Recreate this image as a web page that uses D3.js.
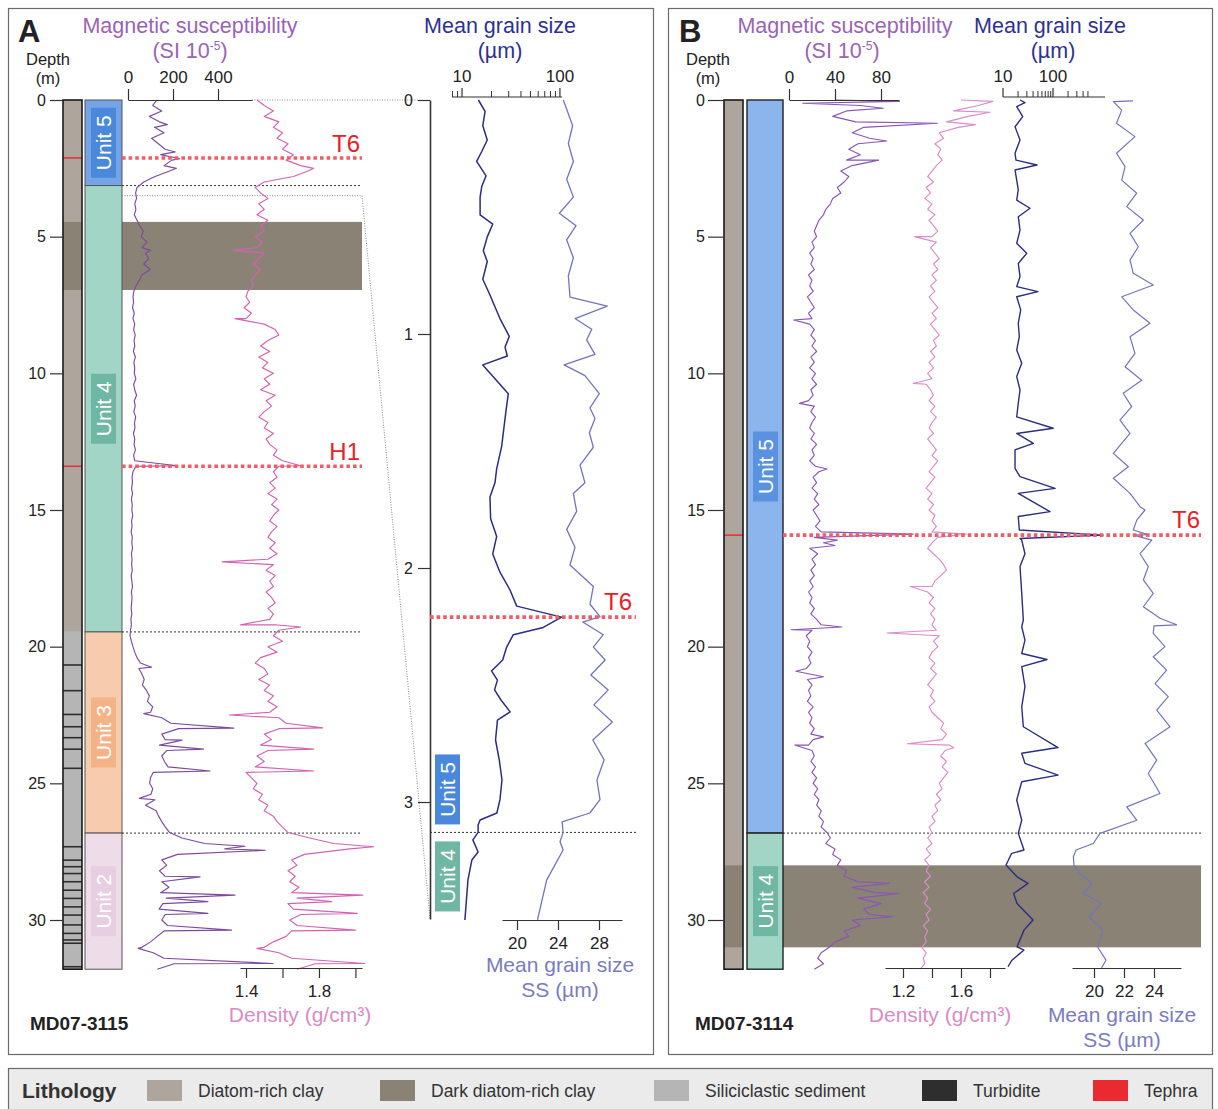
<!DOCTYPE html>
<html>
<head>
<meta charset="utf-8">
<script src="https://cdn.jsdelivr.net/npm/d3@7/dist/d3.min.js"></script>
<style>
html,body{margin:0;padding:0;background:#fff;}
svg{display:block;}
</style>
</head>
<body>
<svg id="chart" width="1218" height="1109"></svg>
<script>
// ---------------- DATA ----------------
const depthTicks = [0, 5, 10, 15, 20, 25, 30];
const zoomDepthTicks = [0, 1, 2, 3];
const sampleStep = 0.2; // m, regular sampling of the MSCL logs

// Core MD07-3115 magnetic susceptibility (SI 10^-5), every 0.2 m from 0 m
const magA = [128,110,150,95,140,118,160,105,135,165,
145,195,160,185,120,70,40,34,38,30,
35,28,40,52,68,58,85,62,78,92,
70,98,62,50,36,26,22,25,20,28,
22,30,25,32,27,30,24,33,26,30,
28,35,25,30,38,28,32,26,34,29,
31,24,30,27,33,25,30,35,22,18,
20,16,20,15,19,17,21,16,18,14,
19,17,20,15,18,16,19,14,17,20,
15,18,16,14,17,13,15,11,9,15,
22,30,40,55,48,62,72,64,82,95,
86,110,100,150,190,225,150,165,140,172,
150,162,178,112,100,96,110,102,120,78,
125,136,150,166,185,240,340,430,220,150,
172,140,165,150,182,145,170,155,138,165,
150,176,160,130,100,62,112,160,205,130];
const magASpikes = [[0.9,175],[1.9,210],[2.15,230],[2.5,215],[5.5,100],[13.38,220],[20.75,105],[22.45,70],[22.98,470],[23.42,240],[23.75,335],[24.55,365],[25.55,50],[27.3,520],[27.45,610],[28.42,320],[29.09,475],[29.33,355],[29.76,355],[30.37,460],[31.04,45],[31.59,645]];

// Core MD07-3115 density (g/cm3), every 0.2 m from 0 m
const densA = [1.46,1.50,1.55,1.50,1.58,1.55,1.60,1.57,1.63,1.60,
1.66,1.62,1.70,1.74,1.66,1.50,1.45,1.48,1.52,1.47,
1.50,1.46,1.52,1.48,1.50,1.45,1.49,1.46,1.50,1.47,
1.44,1.48,1.45,1.43,1.44,1.41,1.40,1.42,1.39,1.43,
1.40,1.50,1.56,1.58,1.52,1.48,1.53,1.47,1.52,1.49,
1.55,1.50,1.53,1.48,1.56,1.51,1.54,1.50,1.47,1.52,
1.50,1.55,1.51,1.53,1.57,1.55,1.60,1.58,1.55,1.57,
1.53,1.56,1.52,1.57,1.54,1.58,1.55,1.53,1.57,1.54,
1.52,1.56,1.53,1.57,1.52,1.55,1.51,1.56,1.53,1.55,
1.51,1.54,1.56,1.52,1.55,1.53,1.56,1.58,1.55,1.60,
1.52,1.57,1.48,1.45,1.50,1.52,1.47,1.53,1.50,1.55,
1.52,1.57,1.53,1.58,1.62,1.58,1.50,1.54,1.48,1.52,
1.46,1.50,1.45,1.40,1.43,1.46,1.44,1.49,1.47,1.52,
1.50,1.55,1.57,1.60,1.63,1.75,1.88,1.97,1.72,1.65,
1.68,1.63,1.67,1.64,1.69,1.65,1.68,1.63,1.66,1.70,
1.64,1.68,1.65,1.62,1.55,1.50,1.58,1.65,1.78,1.68];
const densASpikes = [[2.5,1.77],[5.5,1.33],[8.0,1.34],[13.38,1.70],[16.9,1.27],[19.2,1.37],[19.28,1.70],[22.5,1.31],[22.97,1.82],[23.75,1.77],[24.55,1.77],[27.32,2.1],[29.09,2.04],[29.33,1.87],[29.76,2.01],[30.37,2.0],[31.04,1.46],[31.59,2.05]];

// Core MD07-3115 top 3.5 m: mean grain size (um) and sortable silt mean (um)
const mgsA = [[0,14.7],[0.049,17.2],[0.11,16.3],[0.171,18.1],[0.22,15.9],[0.262,14.1],[0.324,17.6],[0.37,15.9],[0.415,15.3],[0.491,15.3],[0.53,20.6],[0.585,18.1],[0.644,16.5],[0.69,18.1],[0.766,16.3],[0.827,19.0],[0.934,24.4],[1.01,30.4],[1.056,27.5],[1.094,29.0],[1.132,16.3],[1.255,29.7],[1.33,28.1],[1.48,25.4],[1.575,22.6],[1.636,21.7],[1.697,19.3],[1.79,19.6],[1.865,22.6],[1.94,20.6],[2.018,24.4],[2.094,30.9],[2.163,36.2],[2.21,104],[2.254,67.6],[2.285,33.4],[2.338,28.6],[2.393,26],[2.44,20],[2.479,23],[2.521,21.5],[2.564,25],[2.615,31],[2.65,23],[2.735,22],[2.82,24],[2.906,25.6],[2.99,24.4],[3.047,22.7],[3.077,15.3],[3.098,14.6],[3.13,14.6],[3.162,12.9],[3.214,14.6],[3.248,12.6],[3.333,11.5],[3.504,10.7]];
const ssA = [[0,24.52],[0.11,25.43],[0.186,25.01],[0.263,25.5],[0.339,24.85],[0.415,25.5],[0.484,24.13],[0.537,25.76],[0.598,24.85],[0.674,25.5],[0.751,25.01],[0.842,25.17],[0.881,28.81],[0.934,25.66],[0.98,27.29],[1.026,26.8],[1.087,27.61],[1.132,24.59],[1.178,26.63],[1.255,28.03],[1.316,27.12],[1.361,27.61],[1.422,27.06],[1.484,27.45],[1.56,26.15],[1.636,26.63],[1.682,25.5],[1.758,25.82],[1.835,24.85],[1.911,25.66],[1.987,25.17],[2.079,27.45],[2.155,27.12],[2.208,28.1],[2.231,26.41],[2.285,28.42],[2.338,27.45],[2.393,28.6],[2.457,27.2],[2.521,28.9],[2.585,27.5],[2.658,29.3],[2.735,27.4],[2.82,28.5],[2.906,27.8],[2.99,28.1],[3.047,27.1],[3.085,24.4],[3.13,24.5],[3.17,24.2],[3.205,24.5],[3.333,22.9],[3.504,22.0]];

// Core MD07-3114 magnetic susceptibility (SI 10^-5), every 0.2 m from 0 m
const magB = [40,62,50,38,58,65,55,70,60,52,
62,50,55,45,52,48,42,45,38,36,
32,30,26,24,22,24,20,22,18,21,
19,22,17,20,18,21,16,19,22,17,
20,18,22,19,23,20,24,19,22,18,
23,20,24,19,21,17,22,19,23,20,
18,22,19,24,20,22,18,23,26,21,
24,20,25,22,26,21,24,27,23,28,
22,30,18,25,20,23,19,22,18,21,
17,20,18,22,19,24,28,20,15,18,
16,20,17,19,15,18,16,20,17,19,
16,21,17,20,18,22,19,21,17,20,
22,19,23,20,24,21,25,22,26,24,
28,26,30,28,33,36,32,40,38,45,
42,50,48,60,55,75,60,80,65,70,
55,62,48,52,40,35,28,25,30,22];
const magBSpikes = [[0.05,96],[0.12,12],[0.3,82],[0.85,129],[1.5,85],[2.2,78],[8.05,4],[11.1,9],[13.5,33],[15.88,108],[16.1,42],[16.3,40],[19.28,46],[19.38,2],[20.9,6],[21.1,30],[23.3,30],[23.6,5],[28.66,87],[29.03,96],[29.88,90]];

// Core MD07-3114 density (g/cm3), every 0.2 m from 0 m
const densB = [1.60,1.72,1.55,1.65,1.50,1.58,1.45,1.48,1.42,1.46,
1.44,1.47,1.43,1.40,1.37,1.41,1.36,1.39,1.35,1.40,
1.37,1.42,1.38,1.41,1.44,1.40,1.43,1.39,1.42,1.45,
1.41,1.44,1.40,1.43,1.39,1.42,1.38,1.41,1.44,1.40,
1.43,1.39,1.42,1.45,1.41,1.43,1.39,1.42,1.38,1.41,
1.37,1.40,1.36,1.39,1.41,1.38,1.42,1.39,1.43,1.40,
1.38,1.41,1.37,1.40,1.43,1.40,1.44,1.41,1.38,1.42,
1.39,1.36,1.40,1.37,1.41,1.38,1.42,1.40,1.43,1.40,
1.44,1.40,1.37,1.41,1.45,1.48,1.50,1.46,1.42,1.40,
1.37,1.41,1.38,1.42,1.39,1.42,1.40,1.43,1.45,1.41,
1.44,1.40,1.38,1.42,1.39,1.43,1.40,1.37,1.41,1.39,
1.42,1.38,1.40,1.44,1.48,1.46,1.50,1.47,1.52,1.49,
1.46,1.50,1.47,1.51,1.48,1.45,1.47,1.43,1.46,1.42,
1.44,1.40,1.42,1.38,1.40,1.37,1.40,1.36,1.39,1.35,
1.38,1.36,1.39,1.35,1.38,1.34,1.37,1.35,1.39,1.36,
1.38,1.34,1.37,1.35,1.36,1.33,1.36,1.34,1.35,1.32];
const densBSpikes = [[0.05,1.82],[0.45,1.80],[0.9,1.70],[5.0,1.28],[10.37,1.27],[15.88,1.64],[17.8,1.25],[19.5,1.09],[23.55,1.23],[23.7,1.55]];

// Core MD07-3114 mean grain size (um) and sortable silt (um)
const mgsB = [[0,21.9],[0.1,27.5],[0.24,18.8],[0.61,24.8],[0.98,17.4],[1.46,21.9],[1.95,17.4],[2.2,18.2],[2.38,47.9],[2.56,17.4],[2.93,18.8],[3.29,20.2],[3.66,18.8],[3.96,34.7],[4.27,20.2],[4.76,21.9],[5.24,18.8],[5.61,29.8],[5.98,20.2],[6.46,21.9],[6.83,18.8],[7.01,50.1],[7.2,18.8],[7.68,22.6],[8.17,20.2],[8.66,21.2],[9.15,18.8],[9.63,23.7],[10.12,18.8],[10.61,21.9],[11.1,20.2],[11.59,18.8],[12.01,101],[12.2,18.8],[12.56,40.4],[12.8,17.4],[13.48,17.4],[13.78,21.9],[14.21,110],[14.39,20.2],[15.06,87],[15.24,20.2],[15.73,21.2],[15.92,1000],[16.04,21.9],[16.1,23.7],[16.6,27.5],[17.07,21.9],[18.05,23.7],[19.03,25.5],[19.27,23.7],[19.76,27.5],[20.25,23.7],[20.47,75.9],[20.73,23.7],[21.46,27.5],[22.2,23.7],[22.93,25.5],[23.69,126],[23.9,23.7],[24.27,27.5],[24.7,126],[24.94,23.7],[25.61,18.8],[26.35,23.7],[26.83,20.2],[27.44,26.3],[27.56,14.9],[27.99,11.5],[28.42,19.1],[28.66,31.6],[29.03,16.3],[29.4,19.1],[30.0,39.8],[30.37,26.3],[30.98,19.1],[31.1,26.3],[31.47,15.1],[31.71,12.6]];
const ssB = [[0.06,21.29],[0.37,21.85],[0.85,21.5],[1.34,22.73],[1.95,21.5],[2.44,22.07],[2.93,21.85],[3.41,22.85],[3.9,22.18],[4.39,23.29],[4.88,22.4],[5.37,22.95],[5.86,22.4],[6.34,22.62],[6.77,23.95],[7.2,21.85],[7.68,22.62],[8.17,23.73],[8.66,22.4],[9.27,22.73],[9.76,22.07],[10.25,23.18],[10.73,21.95],[11.22,22.51],[11.71,21.73],[12.2,22.4],[12.93,21.29],[13.42,22.29],[13.84,21.29],[14.39,22.4],[14.88,23.07],[15.0,23.4],[15.37,22.85],[15.73,22.62],[15.92,22.62],[16.1,23.85],[16.6,23.07],[17.07,23.62],[17.56,23.29],[18.05,23.95],[18.54,23.29],[18.96,24.4],[19.24,24.0],[19.51,23.95],[20.0,24.73],[20.37,23.95],[20.86,24.84],[21.35,24.07],[21.83,24.95],[22.32,24.18],[22.93,25.07],[23.54,23.4],[24.15,24.18],[24.64,23.62],[25.37,24.4],[25.86,22.18],[26.35,22.85],[26.83,20.4],[27.2,19.95],[27.44,18.8],[27.69,18.62],[27.99,18.67],[28.3,19.07],[28.66,19.87],[29.03,19.3],[29.4,20.5],[29.88,19.67],[30.37,20.6],[30.98,20.23],[31.47,20.8],[31.75,20.5]];
const ssBSpikes = [[0.03,22.6],[15.9,23.6],[19.2,25.51]];

// Stratigraphy
const unitsA = [["Unit 5",0,3.13],["Unit 4",3.13,19.46],["Unit 3",19.46,26.82],["Unit 2",26.82,31.8]];
const unitsB = [["Unit 5",0,26.82],["Unit 4",26.82,31.8]];
const unitsZoomA = [["Unit 5",3.13],["Unit 4",3.13]];
const lithA = [["diatom",0,19.46],["silic",19.46,31.8],["dark",4.46,6.95]];
const lithB = [["diatom",0,31.8],["dark",28.0,31.0]];
const turbiditesA = [20.67,21.61,22.48,22.93,23.33,23.75,24.45,27.32,27.81,28.05,28.3,28.6,28.91,29.21,29.52,29.82,30.18,30.49,30.73,30.85,31.71];
const tephraA = [["T6",2.12],["H1",13.4]];
const tephraZoomA = [["T6",2.21]];
const tephraB = [["T6",15.92]];
const darkBandA = [4.46,6.95];
const darkBandB = [28.0,31.0];
const zoomInterval = [0,3.5];

// Axis ticks
const magATicks = [0,200,400];
const densATicks = [1.4,1.6,1.8,2.0];
const densALabels = [1.4,1.8];
const mgsAMinor = [8,9,20,30,40,50,60,70,80,90];
const mgsAMajor = [10,100];
const ssATicks = [20,24,28];
const magBTicks = [0,40,80];
const densBTicks = [1.2,1.4,1.6,1.8];
const densBLabels = [1.2,1.6];
const mgsBMinor = [20,30,40,50,60,70,80,90,200,300,400,500];
const mgsBMajor = [10,100];
const ssBTicks = [20,22,24];

const legendItems = [["Diatom-rich clay","diatom"],["Dark diatom-rich clay","dark"],["Siliciclastic sediment","silic"],["Turbidite","turb"],["Tephra","tephra"]];

// ---------------- STYLE ----------------
const FONT = "'Liberation Sans', Arial, Helvetica, sans-serif";
const NARROW = "'Liberation Sans Narrow', 'Arial Narrow', 'Liberation Sans', Arial, sans-serif";
const lithColor = {diatom:"#aea69d", dark:"#8b8276", silic:"#b5b5b5", turb:"#2e2e2e", tephra:"#ea2a31"};
const unitCol = {"Unit 5":"#74a4e6","Unit 4":"#a3d5c7","Unit 3":"#f7cbad","Unit 2":"#eedde9"};
const unitBox = {"Unit 5":"#4a88dc","Unit 4":"#6fb7a3","Unit 3":"#f4b387","Unit 2":"#e7cfe1"};
const unitColB = {"Unit 5":"#8cb4ed","Unit 4":"#a3d5c7"};
const unitBoxB = {"Unit 5":"#5a92e0","Unit 4":"#6fb7a3"};
const C = {mag:"#7c4a9e", magB:"#8a55b5", dens:"#d263b3", densB:"#da8ccb", mgs:"#2b2d80", ss:"#7474bb",
  magT:"#9b63b5", densT:"#d88cc6", mgsT:"#2e3191", ssT:"#7b7bc0", red:"#e8202a", redDot:"#f05d66", axis:"#333"};

const svg = d3.select("#chart");
svg.append("rect").attr("width",1218).attr("height",1109).attr("fill","#fff");

// ---------------- SCALES ----------------
const yMain = d3.scaleLinear().domain([0,30]).range([100,920]);
const yZoom = d3.scaleLinear().domain([0,3.5]).range([100,919]);
const xMagA = d3.scaleLinear().domain([0,551]).range([128,252]);
const xDensA = d3.scaleLinear().domain([1.367,2.036]).range([240,362]);
const xMgsA = d3.scaleLog().domain([7.9,105]).range([452,562]);
const xSsA = d3.scaleLinear().domain([18.537,30.244]).range([502,622]);
const xMagB = d3.scaleLinear().domain([0,95.65]).range([789,899]);
const xDensB = d3.scaleLinear().domain([1.0759,1.9035]).range([885,1005]);
const xMgsB = d3.scaleLog().domain([10,1096.5]).range([1003,1105]);
const xSsB = d3.scaleLinear().domain([18.533,25.8]).range([1072,1181]);

// ---------------- FRAMES ----------------
svg.append("rect").attr("x",8.5).attr("y",8.5).attr("width",645).attr("height",1046).attr("fill","none").attr("stroke","#6b6b6b").attr("stroke-width",1.2);
svg.append("rect").attr("x",668.5).attr("y",8.5).attr("width",544).attr("height",1046).attr("fill","none").attr("stroke","#6b6b6b").attr("stroke-width",1.2);

// ---------------- helpers ----------------
function regular(vals){ return vals.map((v,i)=>[i*sampleStep, v]); }
function merged(vals, spikes){ return regular(vals).concat(spikes).sort((a,b)=>a[0]-b[0]); }
function curve(data, xs, ys, color, w){
  svg.append("path").datum(data)
    .attr("d", d3.line().x(d=>xs(d[1])).y(d=>ys(d[0])))
    .attr("fill","none").attr("stroke",color).attr("stroke-width",w).attr("stroke-linejoin","round");
}
function hline(x1,x2,y,color,w,dash){
  svg.append("line").attr("x1",x1).attr("x2",x2).attr("y1",y).attr("y2",y)
    .attr("stroke",color).attr("stroke-width",w).attr("stroke-dasharray",dash||null);
}
function text(x,y,s,opt){
  const t = svg.append("text").attr("x",x).attr("y",y).text(s)
    .attr("font-family",opt.family||FONT).attr("font-size",opt.size||16)
    .attr("fill",opt.color||"#222").attr("text-anchor",opt.anchor||"start");
  if(opt.bold) t.attr("font-weight","bold");
  return t;
}
function styleAxis(g){
  g.attr("font-family",FONT).attr("font-size",17);
  g.select(".domain").attr("stroke",C.axis).attr("stroke-width",1.2);
  g.selectAll(".tick line").attr("stroke",C.axis).attr("stroke-width",1.2);
  g.selectAll(".tick text").attr("fill","#222");
}
function logAxisTop(scale, y, minor, major){
  const [r0,r1] = scale.range();
  hline(r0,r1,y,C.axis,1.2);
  const g = svg.append("g");
  g.selectAll("line.mi").data(minor).join("line").attr("class","mi")
    .attr("x1",d=>scale(d)).attr("x2",d=>scale(d)).attr("y1",y).attr("y2",y-6)
    .attr("stroke",C.axis).attr("stroke-width",1);
  g.selectAll("line.ma").data(major).join("line").attr("class","ma")
    .attr("x1",d=>scale(d)).attr("x2",d=>scale(d)).attr("y1",y).attr("y2",y-9)
    .attr("stroke",C.axis).attr("stroke-width",1.2);
  g.selectAll("text").data(major).join("text")
    .attr("x",d=>scale(d)).attr("y",y-15).attr("text-anchor","middle")
    .attr("font-family",FONT).attr("font-size",17).attr("fill","#222").text(d=>d);
}
function unitLabel(cx, cy, name, fill){
  svg.append("rect").attr("x",cx-12.5).attr("y",cy-35).attr("width",25).attr("height",70).attr("fill",fill);
  svg.append("text").attr("transform",`translate(${cx+7},${cy}) rotate(-90)`)
    .attr("text-anchor","middle").attr("font-family",FONT).attr("font-size",21).attr("fill","#fff").text(name);
}

// ================= PANEL A =================
svg.append("rect").attr("x",122).attr("y",yMain(darkBandA[0])).attr("width",240)
  .attr("height",yMain(darkBandA[1])-yMain(darkBandA[0])).attr("fill",lithColor.dark);

lithA.forEach(([k,a,b])=>{
  svg.append("rect").attr("x",63).attr("y",yMain(a)).attr("width",19).attr("height",yMain(b)-yMain(a)).attr("fill",lithColor[k]);
});
turbiditesA.forEach(d=>hline(63,82,yMain(d),lithColor.turb,1.6));
tephraA.forEach(([n,d])=>hline(63,82,yMain(d),lithColor.tephra,1.5));
svg.append("rect").attr("x",63).attr("y",100).attr("width",19).attr("height",yMain(31.8)-100)
  .attr("fill","none").attr("stroke","#1a1a1a").attr("stroke-width",1.6);

unitsA.forEach(([n,a,b])=>{
  svg.append("rect").attr("x",85).attr("y",yMain(a)).attr("width",37).attr("height",yMain(b)-yMain(a))
    .attr("fill",unitCol[n]).attr("stroke","#555").attr("stroke-width",1);
});
unitsA.forEach(([n,a,b])=>unitLabel(103.5, yMain((a+b)/2), n, unitBox[n]));

const gDA = svg.append("g").attr("transform","translate(63,0)")
  .call(d3.axisLeft(yMain).tickValues(depthTicks).tickSize(13).tickPadding(4).tickSizeOuter(0));
styleAxis(gDA); gDA.attr("font-size",16); gDA.select(".domain").remove();

[3.13,19.46,26.82].forEach(d=>hline(122,362,yMain(d),"#333",1,"2,2"));
hline(252,418,100,"#8a8a8a",1,"1,1.5");
svg.append("path").attr("d",`M122,${yMain(zoomInterval[1])} L362,${yMain(zoomInterval[1])} L430,${yZoom(zoomInterval[1])}`)
  .attr("fill","none").attr("stroke","#8a8a8a").attr("stroke-width",1).attr("stroke-dasharray","1,1.5");

curve(merged(magA, magASpikes), xMagA, yMain, C.mag, 1.15);
curve(merged(densA, densASpikes), xDensA, yMain, C.dens, 1.15);

tephraA.forEach(([n,d])=>{
  hline(122,362,yMain(d),C.redDot,3.6,"3.6,3");
  text(360,yMain(d)-6,n,{size:24,color:C.red,anchor:"end"});
});

const gMagA = svg.append("g").attr("transform","translate(0,100)")
  .call(d3.axisTop(xMagA).tickValues(magATicks).tickSize(11).tickPadding(6).tickSizeOuter(0));
styleAxis(gMagA);
const gDensA = svg.append("g").attr("transform","translate(0,968)")
  .call(d3.axisBottom(xDensA).tickValues(densATicks).tickSize(10).tickPadding(7).tickSizeOuter(0)
  .tickFormat(d=>densALabels.includes(d)?d3.format(".1f")(d):""));
styleAxis(gDensA);

// zoom sub-plot A
const gDZ = svg.append("g").attr("transform","translate(430,0)")
  .call(d3.axisLeft(yZoom).tickValues(zoomDepthTicks).tickSize(12).tickPadding(5).tickSizeOuter(0).tickFormat(d3.format("d")));
styleAxis(gDZ); gDZ.attr("font-size",16); gDZ.select(".domain").attr("stroke-width",1.6);
hline(430,636,yZoom(unitsZoomA[0][1]),"#333",1,"2,2");
unitLabel(447.5, yZoom(unitsZoomA[0][1])-43, "Unit 5", unitBox["Unit 5"]);
unitLabel(447.5, yZoom(unitsZoomA[1][1])+44, "Unit 4", unitBox["Unit 4"]);
curve(mgsA, xMgsA, yZoom, C.mgs, 1.5);
curve(ssA, xSsA, yZoom, C.ss, 1.3);
tephraZoomA.forEach(([n,d])=>{
  hline(430,636,yZoom(d),C.redDot,3.6,"3.6,3");
  text(632,yZoom(d)-7,n,{size:24,color:C.red,anchor:"end"});
});
logAxisTop(xMgsA, 97, mgsAMinor, mgsAMajor);
const gSsA = svg.append("g").attr("transform","translate(0,920)")
  .call(d3.axisBottom(xSsA).tickValues(ssATicks).tickSize(10).tickPadding(7).tickSizeOuter(0));
styleAxis(gSsA);

text(18,42,"A",{size:31,bold:true,color:"#222"});
text(48,65,"Depth",{size:16.5,anchor:"middle"});
text(48,84,"(m)",{size:16.5,anchor:"middle"});
text(190,33,"Magnetic susceptibility",{size:21.5,color:C.magT,anchor:"middle"});
const siA = text(190,58,"(SI 10",{size:21.5,color:C.magT,anchor:"middle"});
siA.append("tspan").attr("dy",-8).attr("font-size",12).text("-5");
siA.append("tspan").attr("dy",8).text(")");
text(500,33,"Mean grain size",{size:21.5,color:C.mgsT,anchor:"middle"});
text(500,58,"(\u00b5m)",{size:21.5,color:C.mgsT,anchor:"middle"});
text(300,1022,"Density (g/cm\u00b3)",{size:21,color:C.densT,anchor:"middle"});
text(560,972,"Mean grain size",{size:21,color:C.ssT,anchor:"middle"});
text(560,997,"SS (\u00b5m)",{size:21,color:C.ssT,anchor:"middle"});
text(30,1030,"MD07-3115",{size:19,bold:true,color:"#222"});

// ================= PANEL B =================
svg.append("rect").attr("x",783).attr("y",yMain(darkBandB[0])).attr("width",418)
  .attr("height",yMain(darkBandB[1])-yMain(darkBandB[0])).attr("fill",lithColor.dark);
lithB.forEach(([k,a,b])=>{
  svg.append("rect").attr("x",724).attr("y",yMain(a)).attr("width",19).attr("height",yMain(b)-yMain(a)).attr("fill",lithColor[k]);
});
tephraB.forEach(([n,d])=>hline(724,743,yMain(d),lithColor.tephra,1.5));
svg.append("rect").attr("x",724).attr("y",100).attr("width",19).attr("height",yMain(31.8)-100)
  .attr("fill","none").attr("stroke","#1a1a1a").attr("stroke-width",1.6);
unitsB.forEach(([n,a,b])=>{
  svg.append("rect").attr("x",747).attr("y",yMain(a)).attr("width",36).attr("height",yMain(b)-yMain(a))
    .attr("fill",unitColB[n]).attr("stroke","#222").attr("stroke-width",1.4);
});
unitsB.forEach(([n,a,b])=>unitLabel(765.5, yMain((a+b)/2), n, unitBoxB[n]));

const gDB = svg.append("g").attr("transform","translate(724,0)")
  .call(d3.axisLeft(yMain).tickValues(depthTicks).tickSize(16).tickPadding(3).tickSizeOuter(0));
styleAxis(gDB); gDB.attr("font-size",16); gDB.select(".domain").remove();

hline(783,1201,yMain(26.82),"#333",1,"2,2");

curve(merged(magB, magBSpikes), xMagB, yMain, C.magB, 1.15);
curve(merged(densB, densBSpikes), xDensB, yMain, C.densB, 1.15);
curve(mgsB, xMgsB, yMain, C.mgs, 1.4);
curve(ssB.concat(ssBSpikes).sort((a,b)=>a[0]-b[0]), xSsB, yMain, C.ss, 1.2);

tephraB.forEach(([n,d])=>{
  hline(783,1201,yMain(d),C.redDot,3.6,"3.6,3");
  text(1200,yMain(d)-7,n,{size:24,color:C.red,anchor:"end"});
});

const gMagB = svg.append("g").attr("transform","translate(0,100)")
  .call(d3.axisTop(xMagB).tickValues(magBTicks).tickSize(11).tickPadding(6).tickSizeOuter(0));
styleAxis(gMagB);
logAxisTop(xMgsB, 97, mgsBMinor, mgsBMajor);
const gDensB = svg.append("g").attr("transform","translate(0,968)")
  .call(d3.axisBottom(xDensB).tickValues(densBTicks).tickSize(10).tickPadding(7).tickSizeOuter(0)
  .tickFormat(d=>densBLabels.includes(d)?d3.format(".1f")(d):""));
styleAxis(gDensB);
const gSsB = svg.append("g").attr("transform","translate(0,968)")
  .call(d3.axisBottom(xSsB).tickValues(ssBTicks).tickSize(10).tickPadding(7).tickSizeOuter(0));
styleAxis(gSsB);

text(679,42,"B",{size:31,bold:true,color:"#222"});
text(708,65,"Depth",{size:16.5,anchor:"middle"});
text(708,84,"(m)",{size:16.5,anchor:"middle"});
text(845,33,"Magnetic susceptibility",{size:21.5,color:C.magT,anchor:"middle"});
const siB = text(842,58,"(SI 10",{size:21.5,color:C.magT,anchor:"middle"});
siB.append("tspan").attr("dy",-8).attr("font-size",12).text("-5");
siB.append("tspan").attr("dy",8).text(")");
text(1050,33,"Mean grain size",{size:21.5,color:C.mgsT,anchor:"middle"});
text(1053,58,"(\u00b5m)",{size:21.5,color:C.mgsT,anchor:"middle"});
text(940,1022,"Density (g/cm\u00b3)",{size:21,color:C.densT,anchor:"middle"});
text(1122,1022,"Mean grain size",{size:21,color:C.ssT,anchor:"middle"});
text(1122,1047,"SS (\u00b5m)",{size:21,color:C.ssT,anchor:"middle"});
text(695,1030,"MD07-3114",{size:19,bold:true,color:"#222"});

// ================= LEGEND =================
svg.append("rect").attr("x",8.5).attr("y",1068.5).attr("width",1204).attr("height",60)
  .attr("fill","#ebebeb").attr("stroke","#6b6b6b").attr("stroke-width",1.2);
text(22,1098,"Lithology",{size:21,bold:true,family:NARROW,color:"#333"});
const legX = [147,380,654,922,1093];
legendItems.forEach(([lab,k],i)=>{
  svg.append("rect").attr("x",legX[i]).attr("y",1080).attr("width",35).attr("height",21).attr("fill",lithColor[k]);
  text(legX[i]+51,1097,lab,{size:17.5,family:NARROW,color:"#333"});
});
</script>
</body>
</html>
